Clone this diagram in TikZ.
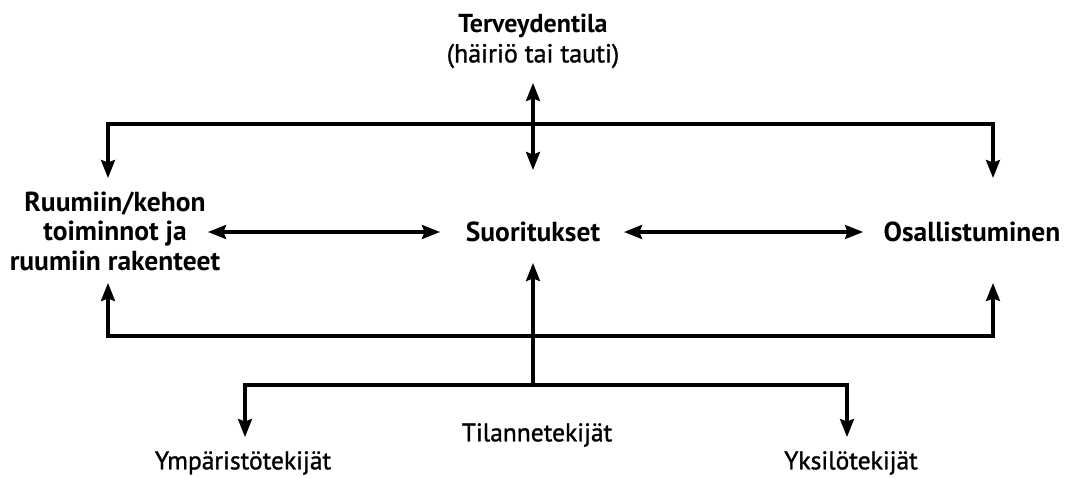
\documentclass[tikz,border=0pt]{standalone}
\usepackage{fontspec}
\setmainfont{PT Sans}
\newfontfamily\medfont[FakeBold=1.2]{PT Sans}
\usetikzlibrary{arrows.meta}
\begin{document}
\begin{tikzpicture}[x=1pt,y=-1pt,
  tip/.tip={Stealth[length=18pt,width=14pt,inset=2.5pt]},
  line/.style={line width=3.1pt, line join=miter},
  conn/.style={line, -tip},
  both/.style={line, tip-tip},
  lbl/.style={font=\fontsize{27.5}{29.5}\selectfont\bfseries, align=center, inner sep=0pt},
  top/.style={font=\fontsize{26}{30}\selectfont, align=center, inner sep=0pt},
  sub/.style={font=\fontsize{25.5}{28}\selectfont\medfont, align=center, inner sep=0pt}]
\useasboundingbox (0,0) rectangle (1071,479);

% components
\node[top] (health) at (533,41) {\textbf{Terveydentila}\\{\medfont(häiriö tai tauti)}};
\node[lbl] (body) at (115,231) {Ruumiin/kehon\\toiminnot ja\\ruumiin rakenteet};
\node[lbl] (act) at (533,232) {Suoritukset};
\node[lbl] (part) at (972,232) {Osallistuminen};
\node[sub] (ctx) at (537,435) {Tilannetekijät};
\node[sub] (env) at (243,463) {Ympäristötekijät};
\node[sub] (pers) at (851,463) {Yksilötekijät};

% arrow ends and junctions
\coordinate (hTop) at (533,83);
\coordinate (hBot) at (533,170);
\coordinate (topL) at (108,124);
\coordinate (topR) at (993,124);
\coordinate (inTL) at (108,178);
\coordinate (inTR) at (993,178);
\coordinate (botL) at (108,336);
\coordinate (botR) at (993,336);
\coordinate (inBL) at (108,283);
\coordinate (inBR) at (993,283);
\coordinate (bodyR) at (208,232);
\coordinate (actL) at (440,232);
\coordinate (actR) at (624,232);
\coordinate (partL) at (863,232);
\coordinate (ctxUp) at (533,263);
\coordinate (ctxJ) at (533,385);
\coordinate (envJ) at (245,385);
\coordinate (persJ) at (847,385);
\coordinate (envIn) at (245,437);
\coordinate (persIn) at (847,437);

% health condition links
\draw[both] (hTop) -- (hBot);
\draw[both] (inTL) -- (topL) -- (topR) -- (inTR);

% middle row links
\draw[both] (bodyR) -- (actL);
\draw[both] (actR) -- (partL);

% contextual factor links
\draw[both] (inBL) -- (botL) -- (botR) -- (inBR);
\draw[conn] (ctxJ) -- (ctxUp);
\draw[both] (envIn) -- (envJ) -- (persJ) -- (persIn);
\end{tikzpicture}
\end{document}
